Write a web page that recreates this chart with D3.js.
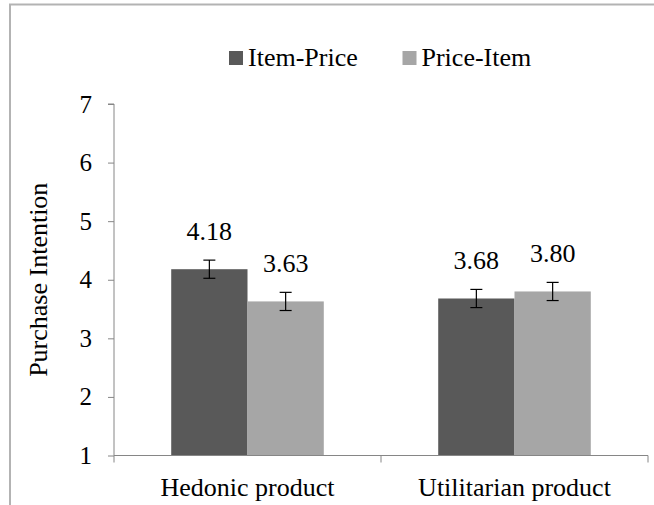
<!DOCTYPE html>
<html>
<head>
<meta charset="utf-8">
<script src="https://cdn.jsdelivr.net/npm/d3@7"></script>
</head>
<body style="margin:0;background:#fff">
<svg id="chart" width="654" height="505" style="display:block"></svg>
<script>
// ---- data ----
const categories = ["Hedonic product", "Utilitarian product"];
const seriesNames = ["Item-Price", "Price-Item"];
const itemPrice = [4.18, 3.68];
const priceItem = [3.63, 3.80];
const itemPriceErr = [0.155, 0.155];
const priceItemErr = [0.155, 0.155];
const yTicks = [1, 2, 3, 4, 5, 6, 7];
const yTitle = "Purchase Intention";
const seriesColors = ["#595959", "#a6a6a6"];

// ---- layout ----
const svg = d3.select("#chart");
const W = 654, H = 505;
const plot = { left: 114, right: 648, top: 104, bottom: 455.5 };
const axisColor = "#868686";
const FONT = '"Liberation Serif"';

// frame
svg.append("path")
  .attr("d", `M10,${H + 5} L10,4.5 L${W + 5},4.5`)
  .attr("fill", "none").attr("stroke", "#b3b3b3").attr("stroke-width", 2);

const x0 = d3.scaleBand().domain(categories).range([plot.left, plot.right]).paddingInner(0).paddingOuter(0);
const x1 = d3.scaleBand().domain(seriesNames).range([0, x0.bandwidth()]).paddingInner(0).paddingOuter(0.75);
const y = d3.scaleLinear().domain([1, 7]).range([plot.bottom, plot.top]);

const rows = [];
categories.forEach((c, i) => {
  rows.push({ cat: c, s: seriesNames[0], v: itemPrice[i], e: itemPriceErr[i], col: seriesColors[0] });
  rows.push({ cat: c, s: seriesNames[1], v: priceItem[i], e: priceItemErr[i], col: seriesColors[1] });
});

// bars
svg.append("g").selectAll("rect").data(rows).join("rect")
  .attr("x", d => x0(d.cat) + x1(d.s))
  .attr("width", x1.bandwidth())
  .attr("y", d => y(d.v))
  .attr("height", d => y(1) - y(d.v))
  .attr("fill", d => d.col);

// y axis
const yAxis = d3.axisLeft(y).tickValues(yTicks).tickSize(6).tickPadding(16).tickFormat(d3.format("d"));
const gy = svg.append("g").attr("transform", `translate(${plot.left},0)`).call(yAxis);
gy.select(".domain").attr("stroke", axisColor).attr("d", `M-6,${plot.top}H0V${plot.bottom}`);
gy.selectAll(".tick line").attr("stroke", axisColor);
gy.selectAll(".tick text").attr("fill", "#000")
  .style("font-family", FONT).style("font-size", "25px");

// x axis
const xAxis = d3.axisBottom(x0).tickSize(0).tickPadding(0);
const gx = svg.append("g").attr("transform", `translate(0,${plot.bottom})`).call(xAxis);
gx.select(".domain").attr("stroke", axisColor).attr("d", `M${plot.left},0H${plot.right}`);
gx.selectAll(".tick text").attr("fill", "#000").attr("dy", null).attr("y", 40)
  .style("font-family", FONT).style("font-size", "26px");
// category boundary ticks
const bounds = categories.map(c => x0(c)).concat([x0(categories[categories.length - 1]) + x0.bandwidth()]);
gx.selectAll("line.bound").data(bounds).join("line").attr("class", "bound")
  .attr("x1", d => d).attr("x2", d => d).attr("y1", 0).attr("y2", 7)
  .attr("stroke", axisColor);

// error bars
const eg = svg.append("g").attr("stroke", "#000").attr("stroke-width", 1.2);
rows.forEach(d => {
  const cx = x0(d.cat) + x1(d.s) + x1.bandwidth() / 2;
  eg.append("line").attr("x1", cx).attr("x2", cx).attr("y1", y(d.v + d.e)).attr("y2", y(d.v - d.e));
  eg.append("line").attr("x1", cx - 6).attr("x2", cx + 6).attr("y1", y(d.v + d.e)).attr("y2", y(d.v + d.e));
  eg.append("line").attr("x1", cx - 6).attr("x2", cx + 6).attr("y1", y(d.v - d.e)).attr("y2", y(d.v - d.e));
});

// value labels
svg.append("g").selectAll("text").data(rows).join("text")
  .attr("x", d => x0(d.cat) + x1(d.s) + x1.bandwidth() / 2)
  .attr("y", d => y(d.v) - 29)
  .attr("text-anchor", "middle")
  .style("font-family", FONT).style("font-size", "26px")
  .text(d => d.v.toFixed(2));

// y title
svg.append("text")
  .attr("transform", `translate(47,${(plot.top + plot.bottom) / 2}) rotate(-90)`)
  .attr("text-anchor", "middle")
  .style("font-family", FONT).style("font-size", "26px")
  .text(yTitle);

// legend
const legendX = [229, 402.5];
const lg = svg.append("g");
seriesNames.forEach((s, i) => {
  lg.append("rect").attr("x", legendX[i]).attr("y", 51).attr("width", 14).attr("height", 14).attr("fill", seriesColors[i]);
  lg.append("text").attr("x", legendX[i] + 19).attr("y", 66)
    .style("font-family", FONT).style("font-size", "26px").text(s);
});
</script>
</body>
</html>
